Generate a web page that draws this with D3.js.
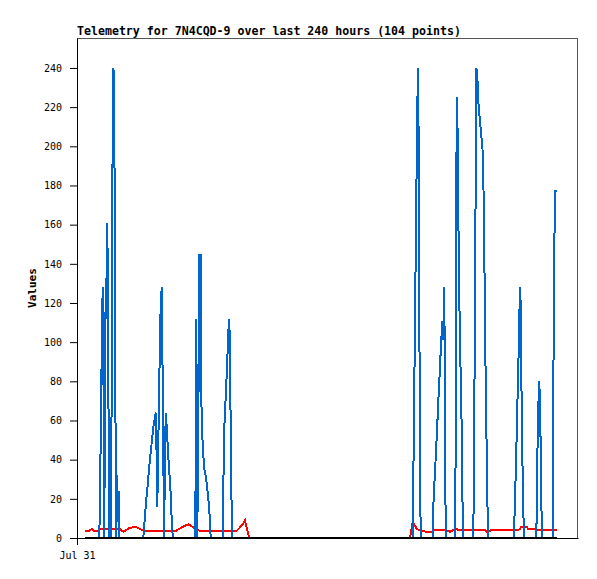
<!DOCTYPE html>
<html>
<head>
<meta charset="utf-8">
<script src="https://cdn.jsdelivr.net/npm/d3@7"></script>
<style>
  body { margin: 0; background: #fff; }
  text { font-family: "DejaVu Sans Mono", "Liberation Mono", monospace; }
</style>
</head>
<body>
<div id="chart"></div>
<script>
// hours since Jul 31 00:00
var hours = [
  3.83, 5.99, 7.04, 7.90, 10.06, 10.68, 11.02, 11.50, 11.98, 12.31,
  12.69, 13.03, 13.41, 13.75, 14.13, 14.51, 14.85, 15.19, 15.57, 16.14,
  16.53, 16.91, 17.48, 18.06, 18.44, 18.83, 19.16, 19.54, 19.93, 20.36,
  22.18, 24.91, 27.78, 30.18, 31.76, 32.34, 33.05, 33.77, 34.49, 35.21,
  35.93, 36.65, 37.37, 37.84, 38.47, 39.43, 39.91, 40.57, 41.20, 41.68,
  42.49, 42.97, 43.45, 43.93, 44.41, 44.79, 45.17, 45.65, 45.99, 47.42,
  50.30, 53.32, 56.05, 56.67, 57.15, 57.63, 58.20, 58.59, 58.92, 59.26,
  59.55, 59.88, 60.84, 61.80, 62.42, 63.09, 63.57, 64.05, 69.80, 70.08,
  70.56, 71.23, 71.86, 72.48, 72.96, 73.29, 73.63, 73.92, 74.39, 76.50,
  78.08, 79.37, 80.48, 82.54, 159.52, 160.81, 161.05, 161.53, 162.01, 162.49,
  162.97, 163.35, 163.69, 163.97, 164.31, 164.65, 167.66, 170.39, 170.68, 171.16,
  171.64, 172.12, 172.60, 173.08, 173.56, 174.04, 174.52, 174.99, 175.47, 175.95,
  176.29, 176.62, 178.68, 181.22, 181.56, 181.89, 182.37, 182.66, 182.99, 183.62,
  184.29, 184.77, 185.05, 189.84, 190.18, 190.66, 191.28, 191.76, 192.10, 192.57,
  193.05, 193.53, 194.01, 194.49, 194.97, 195.59, 196.41, 196.89, 198.32, 209.34,
  209.58, 210.15, 210.63, 211.11, 211.59, 211.98, 212.36, 212.69, 213.03, 213.66,
  214.13, 215.43, 216.05, 219.40, 220.02, 220.21, 220.50, 220.98, 221.46, 221.94,
  222.42, 222.75, 227.88, 228.02, 228.50, 228.98, 229.79
];

// blue channel
var chanBlue = [
  0, 0, 0, 0, 0, 0, 21, 64, 107, 128,
  80, 0, 64, 133, 112, 161, 120, 45, 0, 0,
  60, 180, 240, 180, 60, 0, 32, 8, 24, 0,
  0, 0, 0, 0, 0, 8, 18, 26, 35, 43,
  50, 57, 62, 64, 16, 80, 112, 128, 64, 0,
  64, 57, 47, 38, 31, 24, 14, 4, 0, 0,
  0, 0, 0, 0, 112, 0, 72, 145, 100, 145,
  72, 55, 36, 31, 25, 18, 11, 0, 0, 25,
  56, 72, 87, 105, 112, 93, 56, 25, 0, 0,
  0, 0, 0, 0, 0, 0, 24, 72, 120, 168,
  216, 240, 200, 120, 40, 0, 0, 0, 16, 27,
  37, 47, 58, 70, 80, 91, 101, 111, 101, 128,
  64, 0, 0, 0, 112, 225, 206, 168, 131, 93,
  56, 9, 0, 0, 40, 120, 240, 237, 225, 218,
  213, 207, 202, 195, 161, 96, 32, 0, 0, 0,
  11, 32, 53, 75, 96, 117, 128, 106, 64, 21,
  0, 0, 0, 0, 0, 13, 40, 67, 80, 60,
  20, 0, 0, 44, 132, 177, 177
];

// red channel
var chanRed = [
  3.7, 3.7, 4.6, 3.7, 3.7, 4.6, 4.6, 4.6, 4.6, 4.6,
  4.6, 4.6, 4.6, 4.6, 4.6, 4.6, 4.6, 4.6, 4.6, 4.6,
  4.6, 4.6, 4.6, 4.6, 4.6, 4.6, 4.6, 4.6, 4.6, 4.6,
  3.2, 5.0, 5.8, 4.6, 3.7, 3.7, 3.7, 3.7, 3.7, 3.7,
  3.7, 3.7, 3.7, 3.7, 3.7, 3.7, 3.7, 3.7, 3.7, 3.7,
  3.7, 3.7, 3.7, 3.7, 3.7, 3.7, 3.7, 3.7, 3.7, 3.7,
  5.5, 7.0, 5.2, 4.5, 4.3, 4.1, 3.9, 3.7, 3.7, 3.7,
  3.7, 3.7, 3.7, 3.7, 3.7, 3.7, 3.7, 3.7, 3.7, 3.7,
  3.7, 3.7, 3.7, 3.7, 3.7, 3.7, 3.7, 3.7, 3.7, 3.7,
  5.4, 7.0, 8.9, 0, 0, 8.0, 7.8, 7.0, 6.0, 5.2,
  4.6, 4.3, 4.0, 4.0, 4.0, 4.0, 3.0, 3.0, 4.0, 4.0,
  4.0, 4.0, 4.0, 4.0, 4.0, 4.0, 4.0, 4.0, 4.0, 4.0,
  4.0, 4.0, 3.2, 4.5, 4.5, 4.5, 4.3, 4.0, 4.0, 4.0,
  4.0, 4.0, 4.0, 4.0, 4.0, 4.0, 4.0, 4.0, 4.0, 4.0,
  4.0, 4.0, 4.0, 4.0, 4.0, 4.0, 3.2, 3.2, 4.0, 4.0,
  4.0, 4.0, 4.0, 4.0, 4.2, 4.5, 5.0, 5.5, 5.8, 5.8,
  5.8, 5.8, 4.5, 4.5, 4.0, 4.0, 4.0, 4.0, 4.0, 4.0,
  4.0, 4.0, 4.0, 4.0, 4.0, 4.0, 4.0
];

// black channel (flat at zero the whole time)
var blackHours = [3.83, 82.54, 159.52, 229.79];
var chanBlack = [0, 0, 0, 0];

var yTicks = [0, 20, 40, 60, 80, 100, 120, 140, 160, 180, 200, 220, 240];
var xTickHours = [0];
var xTickLabels = ["Jul 31"];

var svgWidth = 597;
var svgHeight = 579;

var margin = {
  top: 38,
  right: 19,
  bottom: 41,
  left: 77
};

var width = svgWidth - margin.left - margin.right;
var height = svgHeight - margin.top - margin.bottom;

var svg = d3.select("#chart")
  .append("svg")
  .attr("width", svgWidth)
  .attr("height", svgHeight);

// title
svg.append("text")
  .attr("x", margin.left)
  .attr("y", 35)
  .style("font-size", "11.6px")
  .style("font-weight", "bold")
  .text("Telemetry for 7N4CQD-9 over last 240 hours (104 points)");

var chartGroup = svg.append("g")
  .attr("transform", `translate(${margin.left}, ${margin.top})`);

var xScale = d3.scaleLinear()
  .domain([0, 240])
  .range([0, width]);

var yScale = d3.scaleLinear()
  .domain([0, 255.3])
  .range([height, 0]);

// frame
chartGroup.append("rect")
  .attr("x", 0.5)
  .attr("y", 0.5)
  .attr("width", width - 1)
  .attr("height", height)
  .attr("fill", "none")
  .attr("stroke", "#555")
  .attr("stroke-width", 1);

var leftAxis = d3.axisLeft(yScale)
  .tickValues(yTicks)
  .tickSize(7)
  .tickPadding(8)
  .tickSizeOuter(0);

var bottomAxis = d3.axisBottom(xScale)
  .tickValues(xTickHours)
  .tickFormat((d, i) => xTickLabels[i])
  .tickSize(7)
  .tickPadding(7)
  .tickSizeOuter(0);

var yAxis = chartGroup.append("g")
  .call(leftAxis);

var xAxis = chartGroup.append("g")
  .attr("transform", `translate(0, ${height})`)
  .call(bottomAxis);

yAxis.selectAll("text").style("font-size", "10px").attr("fill", "#000");
xAxis.selectAll("text").style("font-size", "10px").attr("fill", "#000");
chartGroup.selectAll(".domain, .tick line").attr("stroke", "#000");

// y label
chartGroup.append("text")
  .attr("transform", "rotate(-90)")
  .attr("x", -(height / 2))
  .attr("y", -41)
  .attr("text-anchor", "middle")
  .style("font-size", "11px")
  .style("font-weight", "bold")
  .text("Values");

var line = d3.line()
  .x(d => xScale(d.h))
  .y(d => yScale(d.v));

var redData = hours.map((h, i) => ({ h: h, v: chanRed[i] }));
var blueData = hours.map((h, i) => ({ h: h, v: chanBlue[i] }));
var blackData = blackHours.map((h, i) => ({ h: h, v: chanBlack[i] }));

// red under blue, black on top; crisp edges to get the stair-step look
chartGroup.append("path")
  .datum(redData)
  .attr("d", line)
  .attr("fill", "none")
  .attr("stroke", "#ff0000")
  .attr("stroke-width", 2)
  .attr("shape-rendering", "crispEdges");

chartGroup.append("path")
  .datum(blueData)
  .attr("d", line)
  .attr("fill", "none")
  .attr("stroke", "#0066cc")
  .attr("stroke-width", 2)
  .attr("shape-rendering", "crispEdges");

chartGroup.append("path")
  .datum(blackData)
  .attr("d", line)
  .attr("fill", "none")
  .attr("stroke", "#000")
  .attr("stroke-width", 2)
  .attr("shape-rendering", "crispEdges");
</script>
</body>
</html>
